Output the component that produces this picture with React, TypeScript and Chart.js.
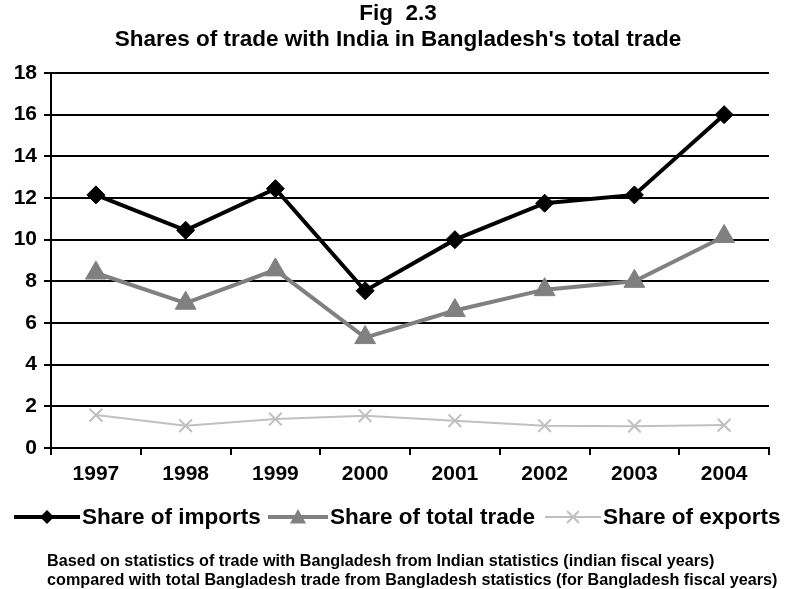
import { useEffect, useRef } from "react";
import { Chart, registerables } from "chart.js";

Chart.register(...registerables);

const years = ["1997", "1998", "1999", "2000", "2001", "2002", "2003", "2004"];
const shareOfImports = [12.15, 10.45, 12.45, 7.55, 10.0, 11.75, 12.15, 16.0];
const shareOfTotalTrade = [8.4, 6.95, 8.55, 5.3, 6.6, 7.6, 8.0, 10.15];
const shareOfExports = [1.58, 1.07, 1.39, 1.55, 1.31, 1.07, 1.05, 1.1];
const yMin = 0;
const yMax = 18;
const yStep = 2;
const seriesNames = ["Share of imports", "Share of total trade", "Share of exports"];
const titleLines = ["Fig  2.3", "Shares of trade with India in Bangladesh's total trade"];
const footnoteLines = [
  "Based on statistics of trade with Bangladesh from Indian statistics (indian fiscal years)",
  "compared with total Bangladesh trade from Bangladesh statistics (for Bangladesh fiscal years)",
];

const FONT = "'Liberation Sans', Arial, Helvetica, sans-serif";
const IMPORT_COLOR = "#000000";
const TOTAL_COLOR = "#808080";
const EXPORT_COLOR = "#C0C0C0";

function drawMarker(ctx: CanvasRenderingContext2D, kind: string, x: number, y: number, r: number, color: string) {
  ctx.save();
  ctx.fillStyle = color;
  ctx.strokeStyle = color;
  ctx.beginPath();
  if (kind === "diamond") {
    ctx.moveTo(x, y - r);
    ctx.lineTo(x + r, y);
    ctx.lineTo(x, y + r);
    ctx.lineTo(x - r, y);
    ctx.closePath();
    ctx.fill();
  } else if (kind === "triangle") {
    ctx.moveTo(x, y - r);
    ctx.lineTo(x + r, y + r * 0.8);
    ctx.lineTo(x - r, y + r * 0.8);
    ctx.closePath();
    ctx.fill();
  } else {
    ctx.lineWidth = 2;
    ctx.moveTo(x - r, y - r);
    ctx.lineTo(x + r, y + r);
    ctx.moveTo(x + r, y - r);
    ctx.lineTo(x - r, y + r);
    ctx.stroke();
  }
  ctx.restore();
}

const textPlugin = {
  id: "textPlugin",
  afterDraw(chart: any) {
    const ctx: CanvasRenderingContext2D = chart.ctx;
    ctx.save();
    ctx.fillStyle = "#000";
    ctx.textBaseline = "middle";
    // title
    ctx.textAlign = "center";
    ctx.font = `bold 22.5px ${FONT}`;
    ctx.fillText(titleLines[0], 398, 14);
    ctx.fillText(titleLines[1], 398, 40);
    // legend
    const ly = 517;
    const items = [
      { x1: 14, x2: 80, w: 4, c: IMPORT_COLOR, m: "diamond", r: 7 },
      { x1: 268, x2: 328, w: 4, c: TOTAL_COLOR, m: "triangle", r: 8 },
      { x1: 545, x2: 601, w: 2, c: EXPORT_COLOR, m: "cross", r: 6 },
    ];
    ctx.textAlign = "left";
    ctx.font = `bold 22.5px ${FONT}`;
    items.forEach((it, i) => {
      ctx.save();
      ctx.strokeStyle = it.c;
      ctx.lineWidth = it.w;
      ctx.beginPath();
      ctx.moveTo(it.x1, ly);
      ctx.lineTo(it.x2, ly);
      ctx.stroke();
      ctx.restore();
      drawMarker(ctx, it.m, (it.x1 + it.x2) / 2, ly, it.r, it.c);
      ctx.fillStyle = "#000";
      ctx.fillText(seriesNames[i], it.x2 + 2, ly + 1);
    });
    // footnote
    ctx.font = `bold 16.2px ${FONT}`;
    ctx.fillText(footnoteLines[0], 47, 562);
    ctx.fillText(footnoteLines[1], 47, 581);
    ctx.restore();
  },
};

export default function App() {
  const ref = useRef<HTMLCanvasElement | null>(null);
  useEffect(() => {
    document.body.style.margin = "0";
    const canvas = ref.current;
    if (!canvas) return;
    const chart = new Chart(canvas, {
      type: "line",
      data: {
        labels: years,
        datasets: [
          {
            label: seriesNames[0],
            data: shareOfImports,
            borderColor: IMPORT_COLOR,
            backgroundColor: IMPORT_COLOR,
            borderWidth: 4,
            pointStyle: "rectRot",
            pointRadius: 9,
            pointBorderWidth: 1,
            pointBackgroundColor: IMPORT_COLOR,
            pointBorderColor: IMPORT_COLOR,
            tension: 0,
          },
          {
            label: seriesNames[1],
            data: shareOfTotalTrade,
            borderColor: TOTAL_COLOR,
            backgroundColor: TOTAL_COLOR,
            borderWidth: 4,
            pointStyle: "triangle",
            pointRadius: 12,
            pointBorderWidth: 1,
            pointBackgroundColor: TOTAL_COLOR,
            pointBorderColor: TOTAL_COLOR,
            tension: 0,
          },
          {
            label: seriesNames[2],
            data: shareOfExports,
            borderColor: EXPORT_COLOR,
            backgroundColor: EXPORT_COLOR,
            borderWidth: 2,
            pointStyle: "crossRot",
            pointRadius: 9,
            pointBorderWidth: 2,
            pointBorderColor: EXPORT_COLOR,
            tension: 0,
          },
        ].reverse(),
      },
      options: {
        responsive: false,
        animation: false,
        events: [],
        layout: { padding: { top: 73, right: 27, bottom: 101, left: 0 } },
        plugins: {
          legend: { display: false },
          title: { display: false },
          tooltip: { enabled: false },
        },
        scales: {
          x: {
            type: "category",
            offset: true,
            afterFit: (s: any) => {
              s.height = 40;
            },
            grid: {
              offset: true,
              drawOnChartArea: false,
              drawTicks: true,
              tickLength: 7,
              color: "#000",
              lineWidth: 2,
            },
            border: { color: "#000", width: 2 },
            ticks: {
              color: "#000",
              padding: 7,
              font: { family: FONT, size: 21, weight: "bold" },
              maxRotation: 0,
            },
          },
          y: {
            min: yMin,
            max: yMax,
            afterFit: (s: any) => {
              s.width = 51;
            },
            grid: {
              color: "#000",
              lineWidth: 2,
              drawTicks: true,
              tickLength: 7,
            },
            border: { color: "#000", width: 2 },
            ticks: {
              stepSize: yStep,
              color: "#000",
              padding: 7,
              font: { family: FONT, size: 21, weight: "bold" },
            },
          },
        },
      },
      plugins: [textPlugin],
    } as any);
    return () => chart.destroy();
  }, []);
  return <canvas ref={ref} width={796} height={589} style={{ display: "block" }} />;
}
